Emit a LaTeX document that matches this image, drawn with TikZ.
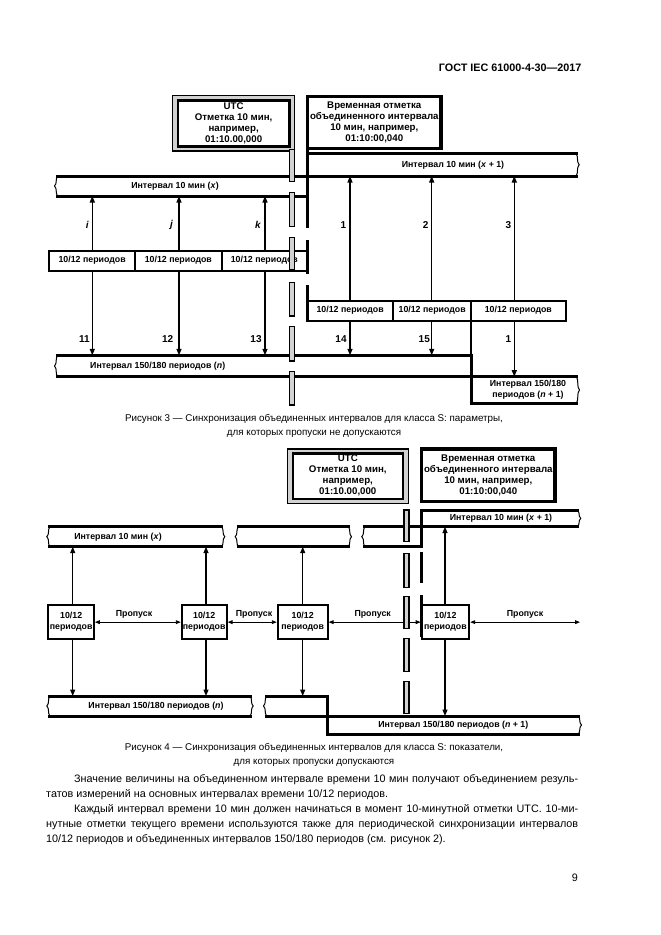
\documentclass[tikz,border=0pt]{standalone}
\usepackage{fontspec}
\setmainfont{Liberation Sans}
\usetikzlibrary{arrows.meta}
\newcommand\dgsmall{\fontsize{8.8}{11}\selectfont\bfseries}
\newcommand\dgbox{\fontsize{9.7}{11}\selectfont\bfseries}
\newcommand\dgnum{\fontsize{10}{12}\selectfont\bfseries}
\newcommand\captfont{\fontsize{9.8}{14.3}\selectfont}
\newcommand\bodyfont{\fontsize{10.8}{15}\selectfont}
\newcommand\lbrk[3]{\draw[brc] (#1+1.5,#2) .. controls (#1-1,#2+4) and (#1+1.5,{(#2+#3)/2-3}) .. (#1-1.5,{(#2+#3)/2}) .. controls (#1+1.5,{(#2+#3)/2+3}) and (#1-1,#3-4) .. (#1+1.5,#3);}
\newcommand\rbrk[3]{\draw[brc] (#1-1.5,#2) .. controls (#1+1,#2+4) and (#1-1.5,{(#2+#3)/2-3}) .. (#1+1.5,{(#2+#3)/2}) .. controls (#1-1.5,{(#2+#3)/2+3}) and (#1+1,#3-4) .. (#1-1.5,#3);}
\newcommand\utcseg[3]{\draw[line width=1.1, fill=gray!35] (#1-2.5,#2) rectangle (#1+2.5,#3);}
\begin{document}
\begin{tikzpicture}[x=1pt,y=-1pt,
  ivl/.style={line width=3, line join=miter},
  brc/.style={line width=1},
  tsl/.style={line width=3.3},
  frameo/.style={line width=1.3, fill=gray!35},
  framei/.style={line width=2.4, fill=white},
  pbox/.style={draw, line width=1.8, inner sep=0, font=\dgsmall, align=center},
  lab/.style={inner sep=0, font=\dgsmall, align=center},
  btxt/.style={inner sep=0, font=\dgbox, align=center},
  num/.style={inner sep=0, font=\dgnum},
  arr/.style={line width=1.3, -{Triangle[width=5pt,length=6.5pt]}},
  garr/.style={line width=0.9, {Triangle[width=3.8pt,length=5pt]}-{Triangle[width=3.8pt,length=5pt]}},
  capt/.style={inner sep=0, font=\captfont, align=center},
  body/.style={inner sep=0, font=\bodyfont, anchor=base west}
]
\fill[white] (0,0) rectangle (661,935);
\useasboundingbox (0,0) rectangle (661,935);

% header
\node[inner sep=0, font=\fontsize{10.8}{13}\selectfont\bfseries, anchor=base east] (hdr) at (581.7,71.5) {ГОСТ IEC 61000-4-30—2017};

% ================= Figure 3 =================
\draw[frameo] (172.4,95.7) rectangle (294.3,151);
\draw[framei] (177.7,100.3) rectangle (289.6,146.3);
\node[btxt] (utcA) at (233.6,123.5) {UTC\\Отметка 10 мин,\\например,\\01:10.00,000};

\draw[tsl] (307.7,96.7) rectangle (441,148.3);
\node[btxt] (tsA) at (374.3,122.5) {Временная отметка\\объединенного интервала\\10 мин, например,\\01:10:00,040};

% timestamp line
\draw[tsl] (307.7,96.7) -- (307.7,228.3);
\draw[tsl] (307.3,240) -- (307.3,274);
\draw[tsl] (307.3,285) -- (307.3,320.7);

% 10 min intervals
\draw[ivl] (307.7,153.5) -- (577.7,153.5);
\draw[ivl] (56,176) -- (577.7,176);
\draw[ivl] (56,196) -- (307.7,196);
\lbrk{56}{176}{196}
\rbrk{577.7}{153.5}{176}
\node[lab] (ixA) at (175,186.5) {Интервал 10 мин (\textit{x})};
\node[lab] (ix1A) at (453,165) {Интервал 10 мин (\textit{x} + 1)};

% 150/180 intervals
\draw[line width=1.3] (471,320.7) -- (471,355.3);
\draw[ivl] (56,355.3) -- (471,355.3) -- (471,403.3) -- (578,403.3);
\draw[ivl] (56,376.7) -- (578,376.7);
\lbrk{56}{355.3}{376.7}
\rbrk{578}{376.7}{403.3}
\node[lab, anchor=center] (inA) at (157.7,366) {Интервал 150/180 периодов (\textit{n})};
\node[lab] (in1A) at (528,390) {Интервал 150/180\\периодов (\textit{n} + 1)};

% boxes
\node[pbox, minimum width=85.7, minimum height=20] (L1) at (92.15,260.7) {10/12 периодов};
\node[pbox, minimum width=86.7, minimum height=20] (L2) at (178.35,260.7) {10/12 периодов};
\node[pbox, minimum width=85.3, minimum height=20] (L3) at (264.35,260.7) {10/12 периодов};
\node[pbox, minimum width=86.3, minimum height=20] (R1) at (350.15,310.7) {10/12 периодов};
\node[pbox, minimum width=77.7, minimum height=20] (R2) at (432.15,310.7) {10/12 периодов};
\node[pbox, minimum width=94.7, minimum height=20] (R3) at (518.35,310.7) {10/12 периодов};

% arrow targets
\coordinate (ai) at (92.3,196);
\coordinate (aj) at (179,196);
\coordinate (ak) at (265,196);
\coordinate (a1) at (350,176);
\coordinate (a2) at (431.7,176);
\coordinate (a3) at (514.3,176);
\coordinate (a11) at (92.3,355.3);
\coordinate (a12) at (179,355.3);
\coordinate (a13) at (265,355.3);
\coordinate (a14) at (350,355.3);
\coordinate (a15) at (431.7,355.3);
\coordinate (a16) at (514.3,376.7);
\draw[arr] (L1.north -| ai) -- (ai);
\draw[arr] (L2.north -| aj) -- (aj);
\draw[arr] (L3.north -| ak) -- (ak);
\draw[arr] (R1.north -| a1) -- (a1);
\draw[arr] (R2.north -| a2) -- (a2);
\draw[arr] (R3.north -| a3) -- (a3);
\draw[arr] (L1.south -| a11) -- (a11);
\draw[arr] (L2.south -| a12) -- (a12);
\draw[arr] (L3.south -| a13) -- (a13);
\draw[arr] (R1.south -| a14) -- (a14);
\draw[arr] (R2.south -| a15) -- (a15);
\draw[arr] (R3.south -| a16) -- (a16);

\node[num] (li) at (87.3,225) {\textit{i}};
\node[num] (lj) at (171.7,225) {\textit{j}};
\node[num] (lk) at (258,225) {\textit{k}};
\node[num] (l1) at (343.3,225) {1};
\node[num] (l2) at (425.7,225) {2};
\node[num] (l3) at (508.3,225) {3};
\node[num] (l11) at (84.3,339.3) {11};
\node[num] (l12) at (167.7,339.3) {12};
\node[num] (l13) at (256,339.3) {13};
\node[num] (l14) at (341,339.3) {14};
\node[num] (l15) at (424.3,339.3) {15};
\node[num] (l16) at (508.3,339.3) {1};

% UTC dashed bar
\utcseg{292.3}{149.5}{181.7}
\utcseg{292.3}{192.7}{226.7}
\utcseg{292.3}{237.3}{269.3}
\utcseg{292.3}{282.3}{316}
\utcseg{292.3}{326.7}{361}
\utcseg{292.3}{371.7}{405}

\node[capt] (cap3) at (314,426) {Рисунок 3 — Синхронизация объединенных интервалов для класса S: параметры,\\для которых пропуски не допускаются};

% ================= Figure 4 =================
\draw[frameo] (287.4,449) rectangle (408.3,503.6);
\draw[framei] (292.7,453.6) rectangle (403,498.9);
\node[btxt] (utcB) at (347.8,475.5) {UTC\\Отметка 10 мин,\\например,\\01:10.00,000};

\draw[tsl] (421.6,449) rectangle (555,501.6);
\node[btxt] (tsB) at (488.3,475) {Временная отметка\\объединенного интервала\\10 мин, например,\\01:10:00,040};

% 10 min intervals
\draw[ivl] (363.3,546.7) -- (421.6,546.7) -- (421.6,510) -- (579.3,510);
\draw[ivl] (363.3,526.7) -- (579.3,526.7);
\lbrk{363.3}{526.7}{546.7}
\rbrk{579.3}{510}{526.7}
\draw[ivl] (48.3,526.7) -- (223.3,526.7);
\draw[ivl] (48.3,546.7) -- (223.3,546.7);
\lbrk{48.3}{526.7}{546.7}
\rbrk{223.3}{526.7}{546.7}
\draw[ivl] (236.7,526.7) -- (350,526.7);
\draw[ivl] (236.7,546.7) -- (350,546.7);
\lbrk{236.7}{526.7}{546.7}
\rbrk{350}{526.7}{546.7}
\node[lab] (ixB) at (118,537) {Интервал 10 мин (\textit{x})};
\node[lab] (ix1B) at (501,518.5) {Интервал 10 мин (\textit{x} + 1)};

% timestamp line pieces
\draw[tsl] (421.6,551.7) -- (421.6,583.3);
\draw[tsl] (421.6,595) -- (421.6,637);

% 150/180 intervals
\draw[ivl] (48.3,696) -- (251.7,696);
\draw[ivl] (48.3,716) -- (251.7,716);
\lbrk{48.3}{696}{716}
\rbrk{251.7}{696}{716}
\draw[ivl] (265,696) -- (327.7,696) -- (327.7,734) -- (580,734);
\draw[ivl] (265,716) -- (580,716);
\lbrk{265}{696}{716}
\rbrk{580}{716}{734}
\node[lab] (inB) at (156,706) {Интервал 150/180 периодов (\textit{n})};
\node[lab] (in1B) at (453.3,725) {Интервал 150/180 периодов (\textit{n} + 1)};

% boxes
\node[pbox, minimum width=45.7, minimum height=34.3] (B1) at (71.15,622.15) {10/12\\периодов};
\node[pbox, minimum width=45, minimum height=34.3] (B2) at (204.2,622.15) {10/12\\периодов};
\node[pbox, minimum width=50, minimum height=34.3] (B3) at (302.7,622.15) {10/12\\периодов};
\node[pbox, minimum width=47.7, minimum height=34.3] (B4) at (445.45,622.15) {10/12\\периодов};

\coordinate (u1) at (72.7,546.7);
\coordinate (u2) at (206,546.7);
\coordinate (u3) at (302.7,546.7);
\coordinate (u4) at (445,526.7);
\coordinate (d1) at (72.7,696);
\coordinate (d2) at (206,696);
\coordinate (d3) at (302.7,696);
\coordinate (d4) at (445,716);
\draw[arr] (B1.north -| u1) -- (u1);
\draw[arr] (B2.north -| u2) -- (u2);
\draw[arr] (B3.north -| u3) -- (u3);
\draw[arr] (B4.north -| u4) -- (u4);
\draw[arr] (B1.south -| d1) -- (d1);
\draw[arr] (B2.south -| d2) -- (d2);
\draw[arr] (B3.south -| d3) -- (d3);
\draw[arr] (B4.south -| d4) -- (d4);

\coordinate (gEnd) at (580,622.15);
\draw[garr] (B1.east) -- (B2.west);
\draw[garr] (B2.east) -- (B3.west);
\draw[garr] (B3.east) -- (B4.west);
\draw[garr] (B4.east) -- (gEnd);
\node[lab] (g1) at (134,614) {Пропуск};
\node[lab] (g2) at (254,614) {Пропуск};
\node[lab] (g3) at (372.7,614.5) {Пропуск};
\node[lab] (g4) at (525,614) {Пропуск};

% UTC dashed bar
\utcseg{406.5}{510}{541.7}
\utcseg{406.5}{553.3}{587.3}
\utcseg{406.5}{596.7}{628.3}
\utcseg{406.5}{638.3}{671.7}
\utcseg{406.5}{681.7}{713.3}

\node[capt] (cap4) at (314,755) {Рисунок 4 — Синхронизация объединенных интервалов для класса S: показатели,\\для которых пропуски допускаются};

% ================= Body text =================
\node[body] (t1) at (74,782) {\makebox[504pt][s]{Значение величины на объединенном интервале времени 10 мин получают объединением резуль-}};
\node[body] (t2) at (46,797) {татов измерений на основных интервалах времени 10/12 периодов.};
\node[body] (t3) at (74,812) {\makebox[504pt][s]{Каждый интервал времени 10 мин должен начинаться в момент 10-минутной отметки UTC. 10-ми-}};
\node[body] (t4) at (46,827) {\makebox[532pt][s]{нутные отметки текущего времени используются также для периодической синхронизации интервалов}};
\node[body] (t5) at (46,842) {10/12 периодов и объединенных интервалов 150/180 периодов (см. рисунок 2).};
\node[body, anchor=base east] (pg) at (578,881) {9};
\end{tikzpicture}
\end{document}
